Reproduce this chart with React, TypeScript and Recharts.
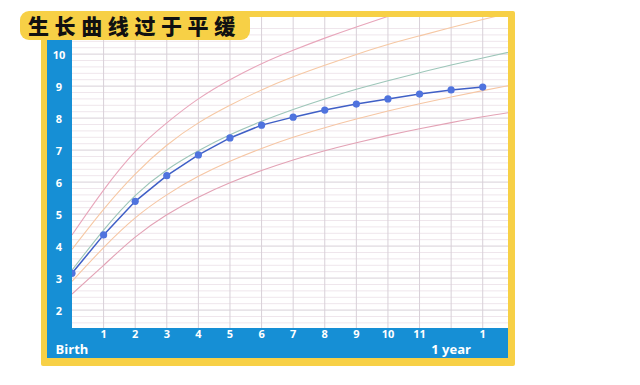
import React from 'react';
import { LineChart, Line, XAxis, YAxis, CartesianGrid } from 'recharts';

// months since birth, weight percentile curves (kg) and the baby's own weights
const months = [0, 1, 2, 3, 4, 5, 6, 7, 8, 9, 10, 11, 12, 13, 14];
const p97 = [4.35, 5.75, 6.95, 7.85, 8.6, 9.2, 9.7, 10.12, 10.5, 10.85, 11.18, 11.5, 11.8, 12.08, 12.35];
const p85 = [3.9, 5.15, 6.25, 7.15, 7.85, 8.4, 8.88, 9.29, 9.65, 9.99, 10.3, 10.57, 10.83, 11.08, 11.32];
const p50 = [3.25, 4.5, 5.58, 6.38, 6.98, 7.48, 7.9, 8.27, 8.6, 8.9, 9.17, 9.42, 9.66, 9.88, 10.1];
const p15 = [2.9, 3.95, 4.88, 5.6, 6.18, 6.65, 7.05, 7.4, 7.7, 7.97, 8.22, 8.45, 8.66, 8.86, 9.05];
const p3 = [2.5, 3.4, 4.28, 4.98, 5.53, 5.98, 6.36, 6.69, 6.98, 7.23, 7.46, 7.67, 7.86, 8.04, 8.2];
const baby = [3.15, 4.35, 5.4, 6.2, 6.85, 7.38, 7.78, 8.03, 8.25, 8.44, 8.6, 8.75, 8.88, 8.97, null];

const monthTicks = [0, 1, 2, 3, 4, 5, 6, 7, 8, 9, 10, 11, 12, 13];
const monthLabels = ['', '1', '2', '3', '4', '5', '6', '7', '8', '9', '10', '11', '', '1'];
const bottomLabels: Record<number, string> = { 0: 'Birth', 12: '1 year' };
const weightTicks = [2, 3, 4, 5, 6, 7, 8, 9, 10];
const minorLines = Array.from({ length: 48 }, (_, i) => +(1.6 + i * 0.2).toFixed(1)).filter(
  (v) => v % 1 !== 0
);

const data = months.map((m, i) => ({
  month: m,
  p97: p97[i],
  p85: p85[i],
  p50: p50[i],
  p15: p15[i],
  p3: p3[i],
  baby: baby[i],
}));

const YELLOW = '#f7d046';
const BLUE = '#168fd5';
const FONT = '"Open Sans", "Noto Sans", sans-serif';

const MonthTick = ({ x, y, payload }: any) => {
  const i = monthTicks.indexOf(payload.value);
  return (
    <g>
      <text x={x} y={y} dy="0.71em" textAnchor="middle" fill="#fff" fontSize={11} fontWeight={700} fontFamily={FONT}>
        {monthLabels[i]}
      </text>
      {bottomLabels[payload.value] && (
        <text x={x} y={y + 24} textAnchor="middle" fill="#fff" fontSize={13} fontWeight={700} fontFamily={FONT}>
          {bottomLabels[payload.value]}
        </text>
      )}
    </g>
  );
};

const WeightTick = ({ y, payload }: any) => (
  <text x={59} y={y} dominantBaseline="central" textAnchor="middle" fill="#fff" fontSize={11} fontWeight={700} fontFamily={FONT}>
    {payload.value}
  </text>
);

export default function App() {
  return (
    <div style={{ position: 'absolute', left: 0, top: 0, width: 640, height: 385, background: '#fff', overflow: 'hidden' }}>
      {/* yellow frame */}
      <div style={{ position: 'absolute', left: 41, top: 11, width: 474, height: 355, background: YELLOW, borderRadius: 2 }} />
      <div style={{ position: 'absolute', left: 47, top: 17, width: 461, height: 341, background: '#fff' }} />
      {/* blue axis bands */}
      <div style={{ position: 'absolute', left: 47, top: 17, width: 25, height: 341, background: BLUE }} />
      <div style={{ position: 'absolute', left: 47, top: 328, width: 461, height: 30, background: BLUE }} />

      <div style={{ position: 'absolute', left: 0, top: 0 }}>
        <LineChart width={640} height={385} data={data} margin={{ top: 17, right: 132, bottom: 27, left: 47 }}>
          <CartesianGrid horizontalValues={minorLines} vertical={false} stroke="#efe6ec" strokeWidth={1} />
          <CartesianGrid horizontalValues={weightTicks} verticalValues={monthTicks.slice(1)} stroke="#d8d0d8" strokeWidth={1} />
          <XAxis
            dataKey="month"
            type="number"
            domain={[0, 13.8]}
            allowDataOverflow
            ticks={monthTicks}
            interval={0}
            axisLine={false}
            tickLine={false}
            tickSize={0}
            tickMargin={2}
            height={30}
            tick={<MonthTick />}
          />
          <YAxis
            type="number"
            domain={[1.44, 11.16]}
            allowDataOverflow
            ticks={weightTicks}
            interval={0}
            axisLine={false}
            tickLine={false}
            width={25}
            tick={<WeightTick />}
          />
          <Line dataKey="p97" type="natural" stroke="#e8a6bb" strokeWidth={1.1} dot={false} isAnimationActive={false} />
          <Line dataKey="p85" type="natural" stroke="#f6c8a4" strokeWidth={1.1} dot={false} isAnimationActive={false} />
          <Line dataKey="p50" type="natural" stroke="#9dc6b9" strokeWidth={1.1} dot={false} isAnimationActive={false} />
          <Line dataKey="p15" type="natural" stroke="#f6c6a4" strokeWidth={1.1} dot={false} isAnimationActive={false} />
          <Line dataKey="p3" type="natural" stroke="#e3a2b5" strokeWidth={1.1} dot={false} isAnimationActive={false} />
          <Line
            dataKey="baby"
            type="linear"
            stroke="#3f5fc6"
            strokeWidth={1.5}
            dot={{ r: 3.6, fill: '#4f73de', stroke: 'none' }}
            isAnimationActive={false}
          />
        </LineChart>
      </div>

      {/* title tag */}
      <div
        style={{
          position: 'absolute',
          left: 20,
          top: 11,
          width: 230,
          height: 29,
          background: YELLOW,
          borderRadius: 9,
          color: '#111',
          fontFamily: '"Noto Sans CJK SC", sans-serif',
          fontWeight: 900,
          fontSize: 21,
          lineHeight: '29px',
          letterSpacing: 5.6,
          paddingLeft: 8,
          boxSizing: 'border-box',
          whiteSpace: 'nowrap',
        }}
      >
        生长曲线过于平缓
      </div>
    </div>
  );
}
